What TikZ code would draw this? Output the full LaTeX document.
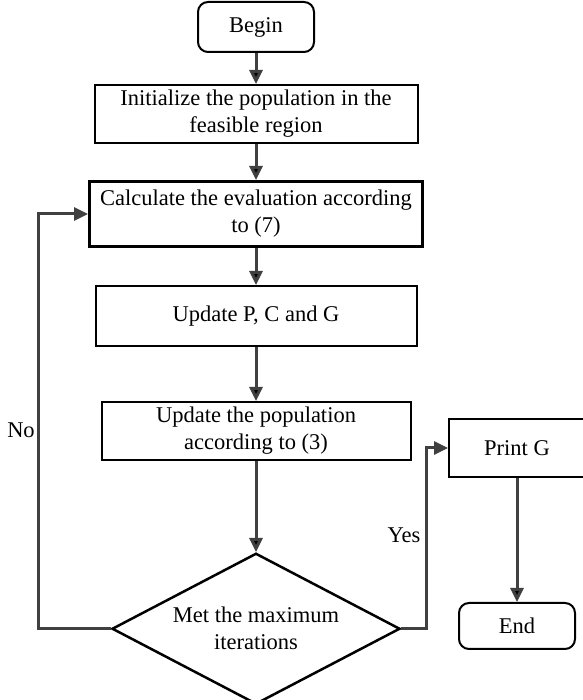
\documentclass[tikz,border=0pt]{standalone}
\usepackage{fontspec}
\setmainfont{Liberation Serif}
\usetikzlibrary{positioning,shapes.geometric,arrows.meta}

\tikzset{
  base/.style={draw=black,line width=2pt,inner sep=0pt,align=center,
    font=\fontsize{22.5}{27}\selectfont},
  term/.style={base,rounded corners=10pt,minimum width=116pt},
  proc/.style={base,minimum height=58pt},
  decision/.style={base,diamond,aspect=1.9,line width=2.5pt,
    minimum width=288pt,minimum height=151pt},
  flow/.style={draw={rgb,255:red,64;green,64;blue,64},line width=3pt,
    -{Triangle[length=14pt,width=13pt]}},
  lbl/.style={font=\fontsize{22.5}{27}\selectfont}
}

\begin{document}
\begin{tikzpicture}[x=1pt,y=1pt]
   \useasboundingbox (0,0) rectangle (582,700);
   \node[term,minimum height=50pt] (begin) at (256,673) {Begin};
   \node[proc,minimum width=323pt] (init) [below=31pt of begin]
        {Initialize the population in the\\feasible region};
   \node[proc,minimum width=333pt,minimum height=65pt,line width=3pt] (calc)
        [below=36pt of init] {Calculate the evaluation according\\to (7)};
   \node[proc,minimum width=321pt,minimum height=60pt] (pcg)
        [below=37pt of calc] {Update P, C and G};
   \node[proc,minimum width=309pt] (pop) [below=54pt of pcg]
        {Update the population\\according to (3)};
   \node[decision] (dec) [below=91pt of pop] {Met the maximum\\iterations};
   \node[proc,minimum width=136pt] (print) at (517,252) {Print G};
   \node[term,minimum height=46pt] (endn) [below=124pt of print] {End};
   \node[lbl] (nolbl) at (21,270) {No};
   \node[lbl] (yeslbl) at (404,165) {Yes};
   \path[flow]
    (begin) edge (init)
    (init)  edge (calc)
    (calc)  edge (pcg)
    (pcg)   edge (pop)
    (pop)   edge (dec)
    (print) edge (endn);
   \draw[flow] (dec.west) -- ++(-72,0) |- (calc.west);
   \draw[flow] (dec.east) -- ++(25,0) |- (print.west);
\end{tikzpicture}
\end{document}
